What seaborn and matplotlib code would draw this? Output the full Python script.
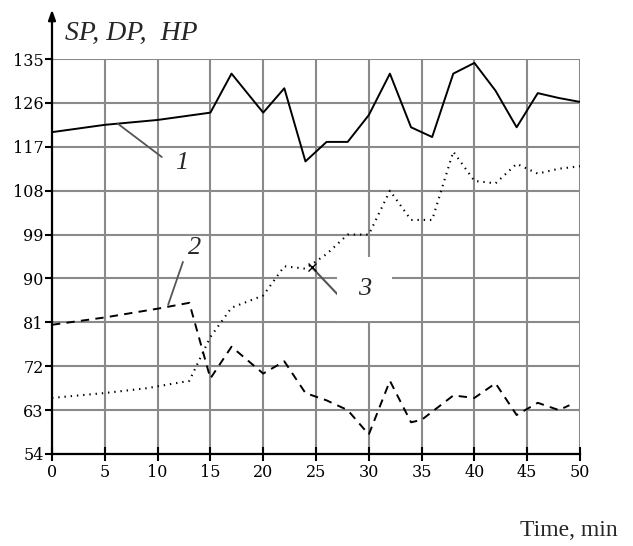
import matplotlib
matplotlib.use("Agg")
import matplotlib.pyplot as plt
import seaborn as sns
import pandas as pd

# ---- data ----
t_sp = [0, 5, 10, 15, 17, 20, 22, 24, 26, 28, 30, 32, 34, 36, 38, 40, 42, 44, 46, 48, 50]
sp = [120, 121.5, 122.5, 124, 132, 124, 129, 114, 118, 118, 123.5, 132, 121, 119, 132, 134.2, 128.5, 121, 128, 127, 126.2]

t_dp = [0, 5, 10, 13, 15, 17, 20, 22, 24, 26, 28, 30, 32, 34, 35, 38, 40, 42, 44, 46, 48, 49]
dp = [80.5, 82, 83.8, 85, 69.5, 76, 70.5, 73, 66.5, 65, 63, 58, 69, 60.5, 61, 66, 65.5, 68.5, 62, 64.5, 63, 64]

t_hp = [0, 5, 9, 13, 15, 17, 20, 22, 24, 26, 28, 30, 32, 34, 36, 38, 40, 42, 44, 46, 48, 50]
hp = [65.5, 66.5, 67.5, 69, 78, 84, 86.5, 92.5, 92, 95, 99, 99, 108, 102, 102, 116, 110, 109.5, 113.5, 111.5, 112.5, 113]

x_ticks = [0, 5, 10, 15, 20, 25, 30, 35, 40, 45, 50]
y_ticks = [54, 63, 72, 81, 90, 99, 108, 117, 126, 135]
y_label = "SP, DP,  HP"
x_label = "Time, min"
curve_labels = ["1", "2", "3"]

sns.set_theme(style="white")
plt.rcParams["font.family"] = ["Liberation Serif", "DejaVu Serif"]
plt.rcParams["lines.scale_dashes"] = False

fig = plt.figure(figsize=(6.33, 5.46), dpi=100)
W, H = 633, 546
ax = fig.add_axes([52 / W, (546 - 454) / H, (580 - 52) / W, (454 - 59) / H])

df_sp = pd.DataFrame({"t": t_sp, "v": sp})
df_dp = pd.DataFrame({"t": t_dp, "v": dp})
df_hp = pd.DataFrame({"t": t_hp, "v": hp})

sns.lineplot(data=df_sp, x="t", y="v", ax=ax, color="black", lw=1.4, zorder=3)
sns.lineplot(data=df_dp, x="t", y="v", ax=ax, color="black", lw=1.4,
             linestyle=(0, (6, 4.5)), zorder=3)
sns.lineplot(data=df_hp, x="t", y="v", ax=ax, color="black", lw=1.5,
             linestyle=(0, (1, 3.5)), zorder=3)

ax.set_xlim(0, 50)
ax.set_ylim(54, 135)
ax.set_xticks(x_ticks)
ax.set_yticks(y_ticks)
ax.set_xticklabels([str(v) for v in x_ticks], family="DejaVu Serif", fontsize=11.5)
ax.set_yticklabels([str(v) for v in y_ticks], family="DejaVu Serif", fontsize=11.5)
ax.grid(True, color="#8a8a8a", lw=1.5)
ax.set_axisbelow(True)
ax.set_xlabel("")
ax.set_ylabel("")

for s in ["top", "right"]:
    ax.spines[s].set_visible(False)
for s in ["left", "bottom"]:
    ax.spines[s].set_color("black")
    ax.spines[s].set_linewidth(1.6)

ax.tick_params(axis="x", direction="inout", length=10, width=1.5, colors="black",
               pad=2, bottom=True)
ax.tick_params(axis="y", direction="out", length=5, width=1.5, colors="black",
               pad=1, left=True)

# y axis arrow above the plot
ax.annotate("", xy=(0, 1.125), xytext=(0, 1.0), xycoords="axes fraction",
            arrowprops=dict(arrowstyle="-|>,head_length=0.5,head_width=0.18",
                            color="black", lw=1.6, shrinkA=0, shrinkB=0),
            annotation_clip=False)

fig.text(65 / W, 1 - 33 / H, y_label, fontsize=20, style="italic",
         ha="left", va="center")
fig.text(618 / W, 1 - 530 / H, x_label, fontsize=17, ha="right", va="center")

# curve labels with leader lines
ax.plot([6.25, 10.4], [124 - 2.3, 114.9], color="#555555", lw=1.3, zorder=4)
ax.text(12.3, 113.7, curve_labels[0], fontsize=19, style="italic", ha="center", va="center")

ax.plot([11.0, 12.4], [84.6, 93.4], color="#555555", lw=1.3, zorder=4)
ax.text(13.5, 96.2, curve_labels[1], fontsize=19, style="italic", ha="center", va="center")

ax.plot([24.6, 27.1], [92.3, 86.6], color="#555555", lw=1.5, zorder=4)
ax.plot([24.6], [92.3], marker="x", color="black", ms=6, mew=1, zorder=5)
ax.text(29.6, 87.8, curve_labels[2], fontsize=19, style="italic", ha="center", va="center",
        bbox=dict(facecolor="white", edgecolor="none", boxstyle="square,pad=0.8"), zorder=4)

fig.savefig("out.png", dpi=100)
